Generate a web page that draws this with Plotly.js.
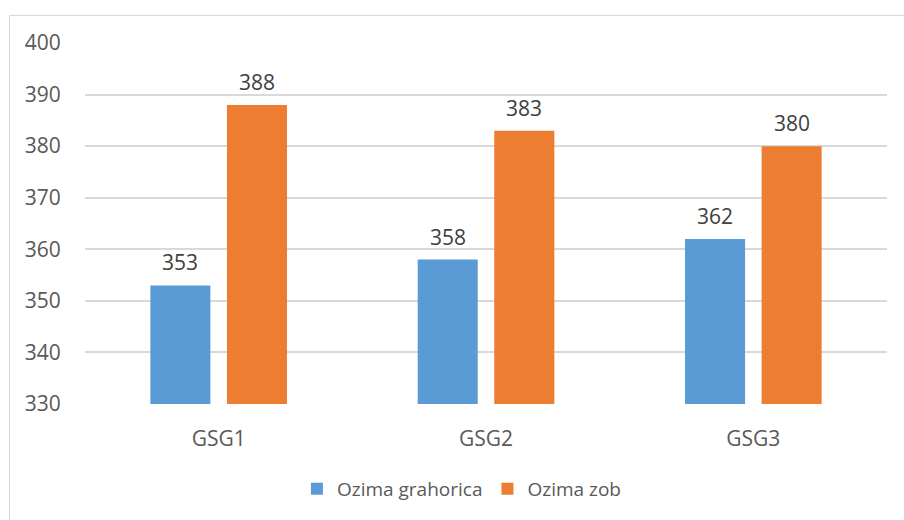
<!DOCTYPE html>
<html>
<head>
<meta charset="utf-8">
<script src="https://cdn.plot.ly/plotly-3.0.1.min.js"></script>
<style>
  html, body { margin: 0; padding: 0; background: #fff; }
  #wrap { position: relative; width: 904px; height: 520px; overflow: hidden; }
  #chart { width: 904px; height: 520px; }
  #frame { position: absolute; left: 9px; top: 15px; width: 920px; height: 540px;
           border: 1px solid #d9d9d9; pointer-events: none; }
</style>
</head>
<body>
<div id="wrap">
  <div id="chart"></div>
  <div id="frame"></div>
</div>
<script>
const categories = ["GSG1", "GSG2", "GSG3"];
const seriesNames = ["Ozima grahorica", "Ozima zob"];
const grahorica = [353, 358, 362];
const zob = [388, 383, 380];
const yTicks = [330, 340, 350, 360, 370, 380, 390, 400];

const FONT = "Open Sans, Lato, sans-serif";
const colors = ["#5B9BD5", "#ED7D31"];
const values = [grahorica, zob];

const traces = values.map((v, i) => ({
  type: "bar",
  name: seriesNames[i],
  x: categories,
  y: v,
  base: 0,
  marker: { color: colors[i] },
  hoverinfo: "none"
}));

// data labels above bars
const bargap = 0.427, bargroupgap = 0.216;
const annotations = [];
values.forEach((v, i) => {
  v.forEach((val, j) => {
    const slot = (1 - bargap) / 2;
    const off = (i === 0 ? -0.5 : 0.5) * slot;
    annotations.push({
      x: j + off, y: val, xref: "x", yref: "y",
      text: String(val), showarrow: false,
      yanchor: "bottom", yshift: 7,
      font: { family: FONT, size: 21, color: "#404040" }
    });
  });
});

const layout = {
  width: 904, height: 520,
  margin: { l: 85, r: 17, t: 43, b: 114 },
  paper_bgcolor: "#fff", plot_bgcolor: "#fff",
  barmode: "group",
  bargap: bargap, bargroupgap: bargroupgap,
  font: { family: FONT, size: 21, color: "#595959" },
  xaxis: {
    type: "category",
    showgrid: false, zeroline: false,
    showline: false,
    ticks: "outside", ticklen: 16, tickcolor: "rgba(0,0,0,0)",
    tickfont: { family: FONT, size: 21, color: "#595959" }
  },
  yaxis: {
    range: [330, 400],
    tickvals: yTicks,
    ticktext: yTicks.map(String),
    showgrid: true, gridcolor: "#d9d9d9", gridwidth: 2,
    zeroline: false, showline: false,
    ticks: "outside", ticklen: 19, tickcolor: "rgba(0,0,0,0)",
    tickfont: { family: FONT, size: 21, color: "#595959" }
  },
  showlegend: true,
  legend: {
    orientation: "h",
    x: 0.47, xanchor: "center",
    y: -0.235, yanchor: "middle",
    font: { family: FONT, size: 19, color: "#595959" },
    itemwidth: 30,
    tracegroupgap: 0
  },
  annotations: annotations
};

Plotly.newPlot("chart", traces, layout, { staticPlot: true, displayModeBar: false });
</script>
</body>
</html>
